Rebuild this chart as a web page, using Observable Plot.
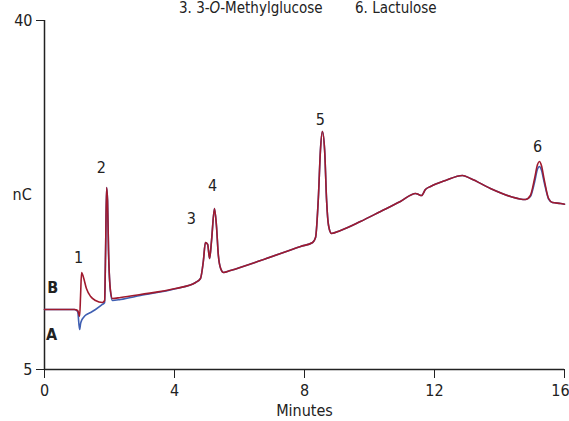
<!DOCTYPE html>
<html><head><meta charset="utf-8">
<script src="https://cdn.jsdelivr.net/npm/d3@7"></script>
<script src="https://cdn.jsdelivr.net/npm/@observablehq/plot@0.6"></script>
<style>
body{margin:0;background:#fff;font-family:"DejaVu Sans Condensed","DejaVu Sans",sans-serif;font-stretch:condensed;}
#wrap{position:relative;width:569px;height:421px;}
#cap{position:absolute;top:0;left:0;width:569px;font-size:15px;color:#222;white-space:pre;}
#cap span{position:absolute;top:-1px;}
</style></head>
<body><div id="wrap"><div id="cap"><span style="left:179px">3. 3-<i>O</i>-Methylglucose</span><span style="left:355px">6. Lactulose</span></div></div>
<script>
const times = [0,0.92,1.02,1.08,1.11,1.14,1.20,1.29,1.42,1.57,1.78,1.85,1.88,1.91,1.94,1.97,2.03,2.09,2.34,2.95,4.03,4.65,4.80,4.89,4.95,5.02,5.08,5.14,5.23,5.29,5.35,5.42,5.51,5.72,6.65,7.88,8.25,8.34,8.43,8.49,8.55,8.62,8.68,8.74,8.83,9.11,9.72,10.34,10.95,11.42,11.51,11.60,11.72,11.88,12.34,12.86,13.11,13.72,14.34,14.80,14.95,15.08,15.17,15.23,15.29,15.38,15.51,15.63,15.88,16.0];
const seriesB = [11.02,11.02,10.92,10.32,12.42,14.73,14.23,13.12,12.32,11.92,11.72,11.92,16.94,23.25,21.95,16.94,12.92,12.12,12.22,12.52,13.12,13.73,14.13,15.93,17.74,17.54,16.13,17.94,21.15,19.44,16.43,15.13,14.73,14.93,15.93,17.34,17.74,18.24,22.45,26.97,28.87,26.97,21.95,19.44,18.64,18.94,19.84,20.85,21.85,22.65,22.55,22.45,23.05,23.36,23.96,24.46,24.16,23.15,22.35,22.05,22.45,24.16,25.56,25.86,25.46,23.96,22.15,21.75,21.65,21.58];
const seriesA = [11.02,11.02,10.82,9.01,9.6,9.91,10.22,10.5,10.72,11.02,11.52,11.72,16.94,23.25,21.95,16.94,12.8,11.92,12.02,12.42,13.1,13.73,14.13,15.93,17.74,17.54,16.13,17.94,21.15,19.44,16.43,15.13,14.73,14.93,15.93,17.34,17.74,18.24,22.45,26.97,28.87,26.97,21.95,19.44,18.64,18.94,19.84,20.85,21.85,22.65,22.55,22.45,23.05,23.36,23.96,24.46,24.16,23.15,22.35,22.05,22.35,23.8,25.1,25.36,25.0,23.7,22.1,21.75,21.65,21.58];
const peakLabels = ["1","2","3","4","5","6"];
const peakX = [1.05,1.75,4.52,5.17,8.49,15.17];
const peakY = [16.2,25.2,20.1,23.4,30.0,27.3];
const traceLabels = ["B","A"];
const traceX = [0.25,0.22];
const traceY = [13.2,8.5];
const xTicks = [0,4,8,12,16];
const yTicks = [5,40];

const dataB = times.map((t,i)=>({t, v:seriesB[i]}));
const dataA = times.map((t,i)=>({t, v:seriesA[i]}));
const peaks = peakLabels.map((l,i)=>({l, x:peakX[i], y:peakY[i]}));
const traces = traceLabels.map((l,i)=>({l, x:traceX[i], y:traceY[i]}));
const FONT = '"DejaVu Sans Condensed","DejaVu Sans",sans-serif';
const lastTick = xTicks[xTicks.length-1];

const chart = Plot.plot({
  width:569, height:421,
  marginTop:20, marginBottom:52, marginLeft:44, marginRight:5,
  style:{fontFamily:FONT, fontSize:"16px", color:"#222", background:"transparent", fontStretch:"condensed"},
  x:{domain:[0,16]},
  y:{domain:[5,40]},
  marks:[
    Plot.axisX({ticks:xTicks, tickSize:9, tickPadding:6, tickFormat:d=>d===lastTick?"":String(d), label:"Minutes", labelAnchor:"center", labelArrow:"none", labelOffset:46, fontSize:16}),
    Plot.axisX({ticks:[lastTick], tickSize:0, tickPadding:15, tickFormat:d=>String(d), label:null, dx:-4, fontSize:16}),
    Plot.axisY({ticks:yTicks, tickSize:8, tickPadding:4, label:null, fontSize:16}),
    Plot.text(["nC"], {frameAnchor:"left", dx:-32, fontSize:16}),
    Plot.ruleX([0], {strokeWidth:1.5, stroke:"#222"}),
    Plot.ruleY([5], {strokeWidth:1.5, stroke:"#222"}),
    Plot.line(dataA, {x:"t", y:"v", stroke:"#3f5fb2", strokeWidth:1.6, curve:"monotone-x"}),
    Plot.line(dataB, {x:"t", y:"v", stroke:"#a01a2e", strokeWidth:1.6, curve:"monotone-x"}),
    Plot.text(peaks, {x:"x", y:"y", text:"l", fontSize:16}),
    Plot.text(traces, {x:"x", y:"y", text:"l", fontSize:16, fontWeight:"bold"})
  ]
});
document.getElementById("wrap").prepend(chart);
</script>
</body></html>
